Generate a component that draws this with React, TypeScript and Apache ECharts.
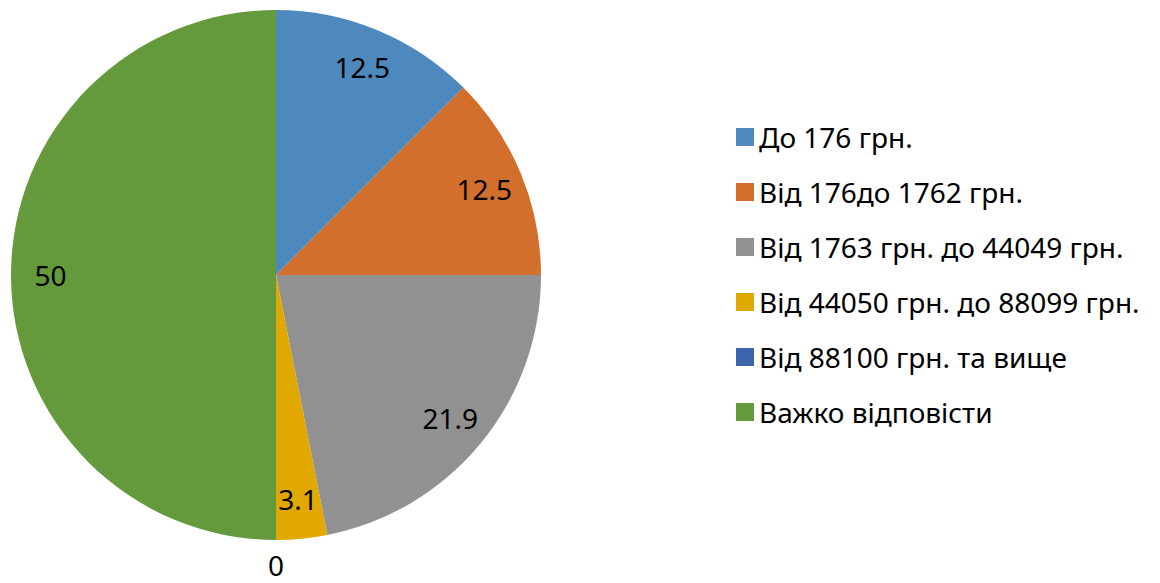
import React, { useEffect, useRef } from "react";
import * as echarts from "echarts";

const categories = [
  "До 176 грн.",
  "Від 176до 1762 грн.",
  "Від 1763 грн. до 44049 грн.",
  "Від 44050 грн. до 88099 грн.",
  "Від 88100 грн. та вище",
  "Важко відповісти",
];
const values = [12.5, 12.5, 21.9, 3.1, 0, 50];
const colors = ["#4E89BE", "#D26F2C", "#919191", "#E0A800", "#3D65AE", "#64993C"];

const FONT = "Noto Sans";

export default function App() {
  const ref = useRef<HTMLDivElement>(null);
  useEffect(() => {
    document.body.style.margin = "0";
    const chart = echarts.init(ref.current!, null, { renderer: "svg" });
    const base = categories.map((name, i) => ({ name, value: values[i] }));
    chart.setOption({
      animation: false,
      color: colors,
      legend: {
        orient: "vertical",
        left: 731,
        top: 118,
        itemWidth: 18,
        itemHeight: 18,
        itemGap: 27,
        icon: "rect",
        data: categories,
        textStyle: { fontFamily: FONT, fontSize: 28, color: "#000", lineHeight: 28 },
      },
      series: [
        {
          type: "pie",
          center: [276, 275],
          radius: [0, 265],
          startAngle: 90,
          clockwise: true,
          silent: true,
          label: { show: false },
          labelLine: { show: false },
          data: base,
        },
        {
          type: "pie",
          center: [276, 275],
          radius: [180, 265],
          startAngle: 90,
          clockwise: true,
          silent: true,
          itemStyle: { color: "rgba(0,0,0,0)" },
          label: {
            show: true,
            position: "inside",
            formatter: "{c}",
            fontFamily: FONT,
            fontSize: 28,
            lineHeight: 28,
            color: "#000",
          },
          labelLine: { show: false },
          data: base.map((d) => (d.value === 0 ? { ...d, label: { show: false } } : d)),
        },
        {
          type: "pie",
          center: [276, 275],
          radius: [265, 309],
          startAngle: 90,
          clockwise: true,
          silent: true,
          itemStyle: { color: "rgba(0,0,0,0)" },
          label: {
            show: true,
            position: "inside",
            formatter: "{c}",
            fontFamily: FONT,
            fontSize: 28,
            lineHeight: 28,
            color: "#000",
          },
          labelLine: { show: false },
          data: base.map((d) => (d.value === 0 ? d : { ...d, label: { show: false } })),
        },
      ],
    });
    return () => chart.dispose();
  }, []);
  return <div ref={ref} style={{ width: 1160, height: 583 }} />;
}
